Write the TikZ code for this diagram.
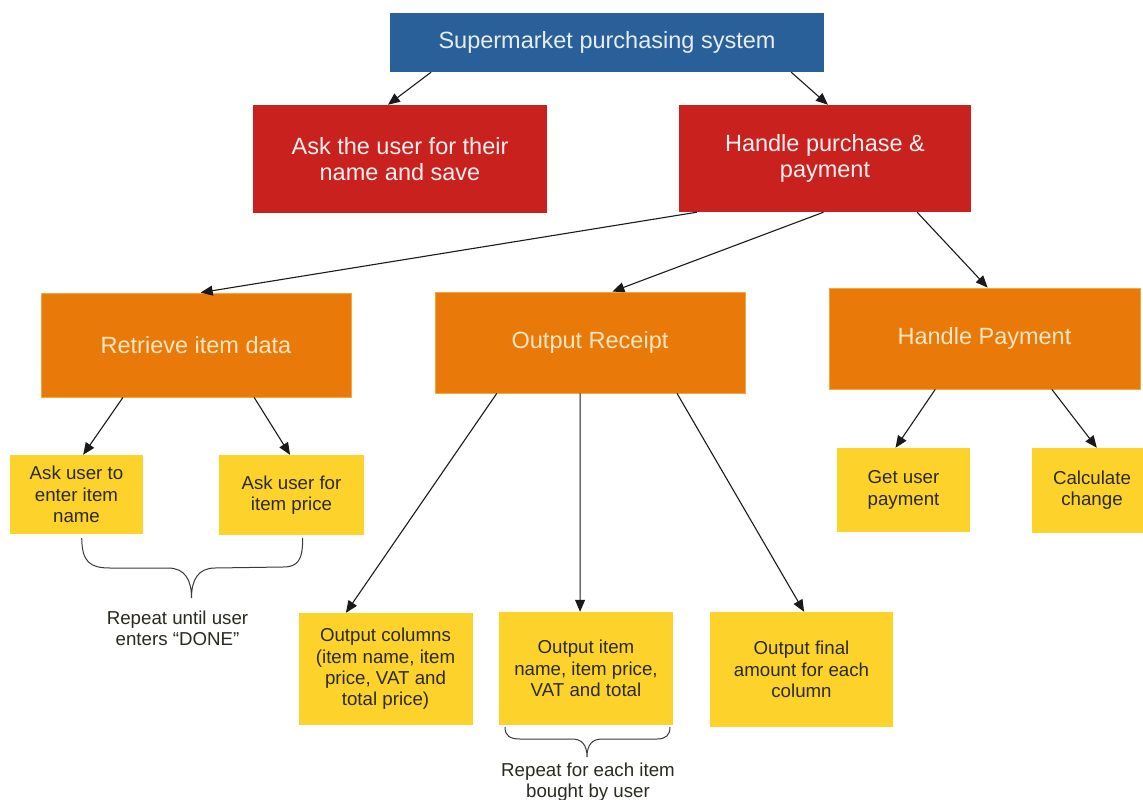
\documentclass[tikz,border=0pt]{standalone}
\usepackage{fontspec}
\setmainfont{Liberation Sans}
\usetikzlibrary{calc,arrows.meta}
\definecolor{cblue}{HTML}{2A6099}
\definecolor{cbluetxt}{HTML}{E6EDF4}
\definecolor{cred}{HTML}{C9211E}
\definecolor{credtxt}{HTML}{FFF0F0}
\definecolor{corange}{HTML}{E97A0A}
\definecolor{corangeedge}{HTML}{F4A640}
\definecolor{coratxt}{HTML}{FFE6C2}
\definecolor{cyellow}{HTML}{FDD32B}
\definecolor{cyeltxt}{HTML}{2B2A1F}
\definecolor{cline}{HTML}{1A1A1A}
\definecolor{cbrace}{HTML}{3A3A3A}
\tikzset{
  box/.style={rectangle, inner sep=0pt, align=center},
  bigtxt/.style={font=\fontsize{23.5}{26}\selectfont},
  smalltxt/.style={font=\fontsize{18.7}{21.3}\selectfont},
  bluebox/.style={box, bigtxt, fill=cblue, text=cbluetxt},
  redbox/.style={box, bigtxt, fill=cred, text=credtxt},
  orangebox/.style={box, bigtxt, fill=corange, draw=corangeedge, line width=0.8pt, text=coratxt},
  yellowbox/.style={box, smalltxt, fill=cyellow, text=cyeltxt},
  note/.style={align=center, smalltxt, text=cyeltxt, inner sep=0pt},
  conn/.style={draw=cline, line width=1.1pt, -{Triangle[length=12pt,width=10pt]}},
  bracestyle/.style={draw=cbrace, line width=1pt}
}
\begin{document}
\begin{tikzpicture}[x=1pt,y=-1pt]
\clip (0,0) rectangle (1143,800);
\fill[white] (0,0) rectangle (1143,800);

% nodes
\node[bluebox, minimum width=434pt, minimum height=59pt] (title) at (607,42.5) {Supermarket purchasing system};
\node[redbox, minimum width=294pt, minimum height=108pt] (ask) at (400,159) {Ask the user for their\\name and save};
\node[redbox, minimum width=292pt, minimum height=107pt] (handle) at (825,158.5) {Handle purchase \&\\payment};
\node[orangebox, minimum width=310pt, minimum height=104pt] (retrieve) at (196,345) {Retrieve item data};
\node[orangebox, minimum width=310pt, minimum height=101pt] (receipt) at (590,342.5) {Output Receipt};
\node[orangebox, minimum width=311pt, minimum height=101pt] (hpay) at (984.5,338.5) {Handle Payment};
\node[yellowbox, minimum width=133pt, minimum height=79pt] (aname) at (76.5,494.5) {Ask user to\\enter item\\name};
\node[yellowbox, minimum width=145pt, minimum height=80pt] (aprice) at (291.5,495) {Ask user for\\item price};
\node[yellowbox, minimum width=174pt, minimum height=112pt] (ocols) at (385.5,669) {Output columns\\(item name, item\\price, VAT and\\total price)};
\node[yellowbox, minimum width=174pt, minimum height=113pt] (oitem) at (586,668.5) {Output item\\name, item price,\\VAT and total};
\node[yellowbox, minimum width=183pt, minimum height=115pt] (ofinal) at (801.5,669.5) {Output final\\amount for each\\column};
\node[yellowbox, minimum width=133pt, minimum height=84pt] (gpay) at (903.5,490) {Get user\\payment};
\node[yellowbox, minimum width=120pt, minimum height=85pt] (calc) at (1092,490.5) {Calculate\\change};
\node[note] (rep1) at (177.5,628) {Repeat until user\\enters “DONE”};
\node[note] (rep2) at (588,782) {Repeat for each item\\bought by user};

% connectors
\draw[conn] ($(title.south west)!0.095!(title.south east)$) -- ($(ask.north west)!0.459!(ask.north east)$);
\draw[conn] ($(title.south west)!0.924!(title.south east)$) -- ($(handle.north west)!0.51!(handle.north east)$);
\draw[conn] ($(handle.south west)!0.062!(handle.south east)$) -- ($(retrieve.north west)!0.515!(retrieve.north east)$);
\draw[conn] ($(handle.south west)!0.495!(handle.south east)$) -- ($(receipt.north west)!0.572!(receipt.north east)$);
\draw[conn] ($(handle.south west)!0.815!(handle.south east)$) -- ($(hpay.north west)!0.51!(hpay.north east)$);
\draw[conn] ($(retrieve.south west)!0.265!(retrieve.south east)$) -- ($(aname.north west)!0.55!(aname.north east)$);
\draw[conn] ($(retrieve.south west)!0.687!(retrieve.south east)$) -- ($(aprice.north west)!0.49!(aprice.north east)$);
\draw[conn] ($(receipt.south west)!0.2!(receipt.south east)$) -- ($(ocols.north west)!0.273!(ocols.north east)$);
\draw[conn] ($(receipt.south west)!0.468!(receipt.south east)$) -- ($(oitem.north west)!0.466!(oitem.north east)$);
\draw[conn] ($(receipt.south west)!0.78!(receipt.south east)$) -- ($(ofinal.north west)!0.514!(ofinal.north east)$);
\draw[conn] ($(hpay.south west)!0.342!(hpay.south east)$) -- ($(gpay.north west)!0.44!(gpay.north east)$);
\draw[conn] ($(hpay.south west)!0.716!(hpay.south east)$) -- ($(calc.north west)!0.54!(calc.north east)$);

% braces
\draw[bracestyle] (81.7,538) .. controls (82,562) and (90,568) .. (110,568)
  -- (168,568) .. controls (185,568) and (191.5,580) .. (191.5,598)
  .. controls (191.5,580) and (198,568) .. (215,568)
  -- (283,567) .. controls (298,567) and (302.7,560) .. (302.7,538);
\draw[bracestyle] (505,727) .. controls (505,736) and (510,739) .. (520,739)
  -- (572,739) .. controls (582,739) and (587,745) .. (587,757)
  .. controls (587,745) and (592,739) .. (602,739)
  -- (657,739) .. controls (666,739) and (670,735) .. (670,727);
\end{tikzpicture}
\end{document}
